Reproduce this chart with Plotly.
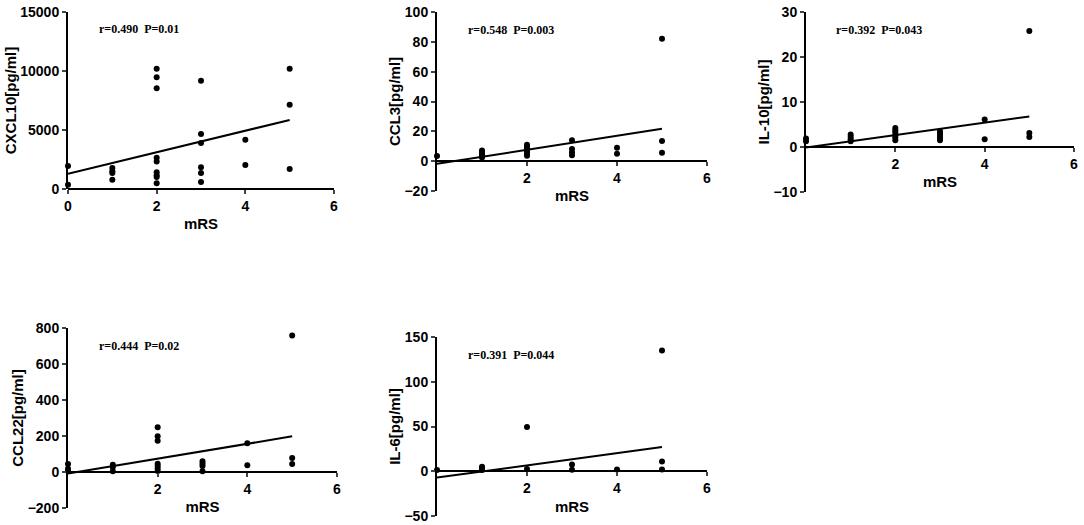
#!/usr/bin/env python3
import plotly.graph_objects as go

# mRS score vs. cytokine level, one panel per marker
names = ['CXCL10', 'CCL3', 'IL-10', 'CCL22', 'IL-6']
stats = ['r=0.490  P=0.01', 'r=0.548  P=0.003', 'r=0.392  P=0.043',
         'r=0.444  P=0.02', 'r=0.391  P=0.044']

cxcl10_x = [0, 0, 1, 1, 1, 1, 2, 2, 2, 2, 2, 2, 2, 2, 2, 3, 3, 3, 3, 3, 3, 4, 4, 5, 5, 5]
cxcl10_y = [1950, 350, 1780, 1500, 1350, 790, 10200, 9460, 8530, 2650, 2320, 1410,
            1160, 1020, 480, 9180, 4660, 3900, 1840, 1360, 590, 4180, 2030, 10200, 7150, 1700]

ccl3_x = [0, 1, 1, 1, 1, 1, 2, 2, 2, 2, 2, 2, 3, 3, 3, 3, 4, 4, 5, 5, 5]
ccl3_y = [3.4, 7.2, 6.0, 4.8, 3.6, 2.4, 11.0, 9.6, 8.1, 6.4, 4.8, 3.6,
          14.0, 8.1, 5.8, 4.0, 9.0, 5.0, 82.0, 13.5, 5.6]

il10_x = [0, 0, 1, 1, 1, 1, 2, 2, 2, 2, 2, 2, 3, 3, 3, 3, 3, 4, 4, 5, 5, 5]
il10_y = [1.9, 1.3, 2.8, 2.2, 1.7, 1.3, 4.2, 3.7, 3.2, 2.6, 2.1, 1.5,
          3.5, 3.0, 2.5, 2.0, 1.5, 6.1, 1.7, 25.8, 3.1, 2.2]

ccl22_x = [0, 0, 0, 1, 1, 1, 2, 2, 2, 2, 2, 2, 2, 3, 3, 3, 3, 4, 4, 5, 5, 5]
ccl22_y = [44, 18, 6, 40, 28, 4, 248, 199, 173, 46, 33, 19, 6,
           60, 46, 33, 4, 160, 38, 759, 78, 44]

il6_x = [0, 1, 1, 1, 2, 2, 3, 3, 4, 5, 5, 5]
il6_y = [1.5, 5.0, 3.3, 1.5, 49.5, 2.4, 7.5, 1.8, 2.0, 135.0, 11.0, 2.0]

# regression line: value at mRS=0 and at mRS=5
fit_y0 = [1300, -1.8, -0.1, -9, -7]
fit_y5 = [5850, 21.8, 6.8, 198, 27]

y_ranges = [[0, 15000], [-20, 100], [-10, 30], [-200, 800], [-50, 150]]
y_ticks = [[0, 5000, 10000, 15000], [-20, 0, 20, 40, 60, 80, 100],
           [-10, 0, 10, 20, 30], [-200, 0, 200, 400, 600, 800], [-50, 0, 50, 100, 150]]
x_ticks = [[0, 2, 4, 6], [2, 4, 6], [2, 4, 6], [2, 4, 6], [2, 4, 6]]

xs = [cxcl10_x, ccl3_x, il10_x, ccl22_x, il6_x]
ys = [cxcl10_y, ccl3_y, il10_y, ccl22_y, il6_y]

W, H = 1084, 525
# plot boxes in pixels: (left, right, top, bottom)
boxes = [(68, 334, 12, 189), (437, 707, 12, 191), (806, 1074, 12, 192),
         (68, 337, 328, 508), (437, 707, 337, 516)]
stat_pos = [(0.65, 13560), (0.64, 88), (0.63, 26), (0.65, 700), (0.64, 130)]

sans = "Liberation Sans, Arial, sans-serif"
serif = "Liberation Serif, Times New Roman, serif"

fig = go.Figure()
layout = dict(width=W, height=H, margin=dict(l=0, r=0, t=0, b=0),
              paper_bgcolor='white', plot_bgcolor='white', showlegend=False)
annotations = []

for i in range(5):
    n = '' if i == 0 else str(i + 1)
    left, right, top, bottom = boxes[i]
    xd = [left / W, right / W]
    yd = [1 - bottom / H, 1 - top / H]
    r0, r1 = y_ranges[i]
    zero_pos = yd[0] + (0 - r0) / (r1 - r0) * (yd[1] - yd[0])

    fig.add_trace(go.Scatter(x=xs[i], y=ys[i], mode='markers',
                             marker=dict(color='black', size=6),
                             cliponaxis=False, xaxis='x' + n, yaxis='y' + n))
    fig.add_trace(go.Scatter(x=[0, 5], y=[fit_y0[i], fit_y5[i]], mode='lines',
                             line=dict(color='black', width=2),
                             cliponaxis=False, xaxis='x' + n, yaxis='y' + n))

    layout['xaxis' + n] = dict(
        domain=xd, range=[0, 6], anchor='free', position=zero_pos, automargin=False,
        tickvals=x_ticks[i], ticks='outside', ticklen=4, tickwidth=2,
        showline=True, linewidth=2, linecolor='black', ticklabeloverflow='allow',
        showgrid=False, zeroline=False,
        tickfont=dict(family=sans, size=14, color='black', weight='bold'),
        title=dict(text='mRS', standoff=5,
                   font=dict(family=sans, size=15, color='black', weight='bold')))
    layout['yaxis' + n] = dict(
        domain=yd, range=y_ranges[i], anchor='x' + n, automargin=False,
        tickvals=y_ticks[i], tickformat='d', ticks='outside', ticklen=4, tickwidth=2,
        showline=True, linewidth=2, linecolor='black',
        showgrid=False, zeroline=False,
        tickfont=dict(family=sans, size=14, color='black', weight='bold'),
        title=dict(text=names[i] + '[pg/ml]', standoff=0,
                   font=dict(family=sans, size=15, color='black', weight='bold')))

    annotations.append(dict(x=stat_pos[i][0], y=stat_pos[i][1], xref='x' + n, yref='y' + n,
                            text=stats[i], showarrow=False, xanchor='left',
                            font=dict(family=serif, size=12, color='black', weight='bold')))

layout['annotations'] = annotations
fig.update_layout(**layout)
# drop the browser's default page margin so the figure sits at the top-left corner
fig.write_html("out.html", config={'displayModeBar': False},
               post_script="document.body.style.margin='0';")
